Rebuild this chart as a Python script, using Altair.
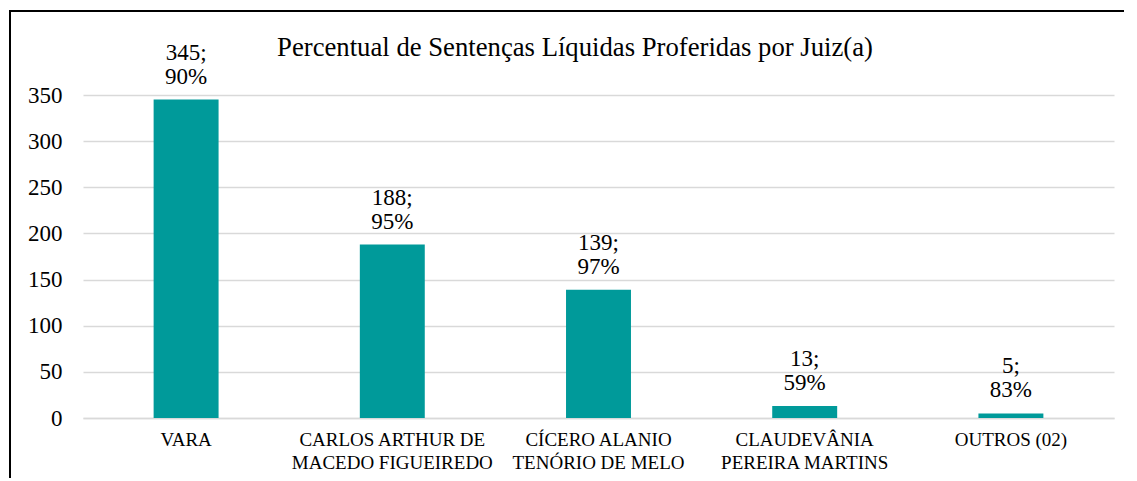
import altair as alt
import pandas as pd

categories = [
    "VARA",
    "CARLOS ARTHUR DE\nMACEDO FIGUEIREDO",
    "CÍCERO ALANIO\nTENÓRIO DE MELO",
    "CLAUDEVÂNIA\nPEREIRA MARTINS",
    "OUTROS (02)",
]
counts = [345, 188, 139, 13, 5]
percents = ["90%", "95%", "97%", "59%", "83%"]
y_ticks = [0, 50, 100, 150, 200, 250, 300, 350]
title_text = "Percentual de Sentenças Líquidas Proferidas por Juiz(a)"

df = pd.DataFrame({
    "cat": categories,
    "n": counts,
    "l1": [f"{c};" for c in counts],
    "l2": percents,
})

W, H = 1031, 323
FONT = "Liberation Serif"

x = alt.X("cat:N", sort=categories, title=None,
          scale=alt.Scale(paddingInner=0.685, paddingOuter=0.3425),
          axis=alt.Axis(labelAngle=0, labelFont=FONT, labelFontSize=19, labelColor="black",
                        labelExpr="split(datum.label, '\\n')", labelLineHeight=23,
                        labelPadding=12, ticks=False, domainColor="#d9d9d9", domainWidth=1.5,
                        labelLimit=300))
y = alt.Y("n:Q", title=None,
          scale=alt.Scale(domain=[0, 350], nice=False),
          axis=alt.Axis(values=y_ticks, labelFont=FONT,
                        labelFontSize=23, labelColor="black", labelPadding=21,
                        ticks=False, domain=False, gridColor="#d9d9d9", gridWidth=1.5))

bars = alt.Chart(df).mark_bar(color="#009a9a").encode(x=x, y=y)
lab1 = alt.Chart(df).mark_text(font=FONT, fontSize=23, baseline="alphabetic", dy=-40,
                               color="black").encode(
    x=alt.X("cat:N", sort=categories), y="n:Q", text="l1:N")
lab2 = alt.Chart(df).mark_text(font=FONT, fontSize=23, baseline="alphabetic", dy=-16,
                               color="black").encode(
    x=alt.X("cat:N", sort=categories), y="n:Q", text="l2:N")
title = alt.Chart(pd.DataFrame({"t": [title_text]})).mark_text(
    font=FONT, fontSize=26.7, baseline="alphabetic", align="center", color="black").encode(
    x=alt.value(492), y=alt.value(-39), text="t:N")
frame = alt.Chart(df).mark_rect(fill=None, stroke="black", strokeWidth=2, clip=False).encode(
    x=alt.value(-73), x2=alt.value(W + 60), y=alt.value(-84), y2=alt.value(H + 90))

chart = alt.layer(bars, lab1, lab2, title, frame).properties(
    width=W, height=H,
    autosize=alt.AutoSizeParams(type="none"),
    padding={"left": 75, "top": 87, "right": 10, "bottom": 60},
).configure_view(stroke=None)

chart.save("out.html", embed_options={"renderer": "svg", "actions": False})
